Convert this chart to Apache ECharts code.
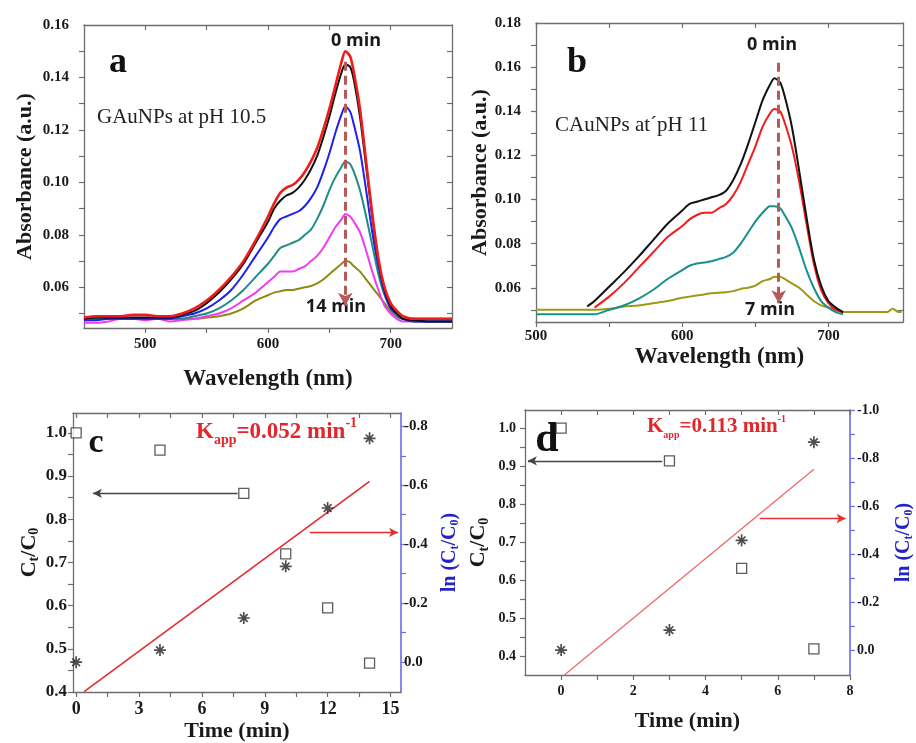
<!DOCTYPE html>
<html><head><meta charset="utf-8">
<script src="https://cdn.jsdelivr.net/npm/echarts@6/dist/echarts.min.js"></script>
<style>html,body{margin:0;padding:0;background:#fff}#c{width:916px;height:743px}</style>
</head><body><div id="c"></div>
<script>
// ---------- Panel a: GAuNPs at pH 10.5 ----------
const waveA = [450,460,470,480,490,500,510,520,530,540,550,560,570,580,590,600,605,610,615,620,625,630,635,640,645,650,655,660,663,667,670,675,680,685,690,695,700,705,710,720,730,740,750];
const absA_0 = [0.0485,0.049,0.049,0.049,0.0495,0.0495,0.049,0.049,0.050,0.052,0.055,0.059,0.064,0.070,0.078,0.087,0.092,0.096,0.098,0.099,0.101,0.104,0.108,0.113,0.120,0.128,0.137,0.146,0.150,0.148,0.142,0.128,0.108,0.088,0.071,0.060,0.054,0.051,0.049,0.048,0.048,0.048,0.048];
const absA_4 = [0.048,0.0485,0.0485,0.0485,0.0485,0.0485,0.0485,0.0485,0.0495,0.051,0.054,0.058,0.063,0.069,0.077,0.085,0.090,0.093,0.095,0.096,0.098,0.101,0.105,0.110,0.117,0.125,0.134,0.142,0.145,0.144,0.139,0.125,0.106,0.087,0.070,0.059,0.053,0.050,0.048,0.0475,0.047,0.047,0.047];
const absA_8 = [0.0475,0.0475,0.048,0.048,0.048,0.048,0.048,0.048,0.049,0.050,0.052,0.055,0.059,0.065,0.072,0.079,0.083,0.086,0.087,0.088,0.089,0.091,0.094,0.098,0.104,0.111,0.119,0.126,0.129,0.127,0.122,0.112,0.097,0.081,0.068,0.058,0.052,0.050,0.048,0.047,0.047,0.047,0.047];
const absA_10 = [0.048,0.048,0.048,0.048,0.048,0.048,0.048,0.048,0.048,0.049,0.050,0.052,0.055,0.059,0.064,0.069,0.072,0.075,0.076,0.077,0.078,0.080,0.082,0.086,0.091,0.097,0.102,0.106,0.108,0.107,0.104,0.097,0.087,0.076,0.065,0.057,0.052,0.049,0.048,0.047,0.047,0.047,0.047];
const absA_12 = [0.0465,0.0465,0.047,0.048,0.048,0.0475,0.048,0.047,0.0475,0.048,0.049,0.050,0.052,0.055,0.058,0.062,0.064,0.066,0.066,0.066,0.067,0.068,0.070,0.072,0.075,0.079,0.083,0.086,0.088,0.087,0.085,0.081,0.074,0.066,0.059,0.053,0.050,0.048,0.047,0.047,0.047,0.047,0.047];
const absA_14 = [0.048,0.048,0.048,0.048,0.048,0.048,0.048,0.048,0.048,0.048,0.0485,0.049,0.050,0.052,0.055,0.057,0.058,0.0585,0.059,0.059,0.0595,0.060,0.0605,0.0615,0.063,0.065,0.067,0.069,0.070,0.0695,0.068,0.066,0.063,0.060,0.057,0.054,0.051,0.049,0.048,0.048,0.048,0.048,0.048];
const arrowA = [[663,0.146],[663,0.053]];

// ---------- Panel b: CAuNPs at pH 11 ----------
const waveB = [500,510,520,530,535,540,550,560,570,580,590,600,605,610,615,620,625,630,635,640,645,650,655,660,663,667,670,675,680,685,690,695,700,705,710,720,730,740,744,748,750];
const absB_0 = [null,null,null,null,0.0515,0.054,0.0605,0.067,0.074,0.0815,0.089,0.095,0.098,0.099,0.100,0.101,0.102,0.104,0.109,0.116,0.125,0.135,0.145,0.152,0.155,0.153,0.147,0.133,0.113,0.092,0.073,0.061,0.054,0.051,0.049,null,null,null,null,null,null];
const absB_3 = [null,null,null,null,null,0.051,0.056,0.062,0.069,0.076,0.083,0.088,0.091,0.093,0.094,0.094,0.096,0.098,0.102,0.108,0.116,0.124,0.133,0.139,0.141,0.140,0.135,0.124,0.108,0.089,0.071,0.059,0.053,0.050,0.049,null,null,null,null,null,null];
const absB_5 = [0.048,0.048,0.048,0.048,0.048,0.048,0.050,0.052,0.055,0.059,0.064,0.068,0.070,0.071,0.0715,0.072,0.073,0.074,0.076,0.080,0.085,0.090,0.094,0.097,0.097,0.096,0.093,0.087,0.078,0.068,0.060,0.054,0.051,0.049,0.048,null,null,null,null,null,null];
const absB_7 = [0.050,0.050,0.050,0.050,0.050,0.050,0.0505,0.0515,0.052,0.053,0.054,0.0555,0.056,0.0565,0.057,0.0575,0.0578,0.058,0.0585,0.0595,0.060,0.061,0.063,0.064,0.065,0.065,0.064,0.062,0.060,0.057,0.054,0.052,0.051,0.050,0.049,0.049,0.049,0.049,0.0505,0.049,0.049];
const arrowB = [[666,0.162],[666,0.053]];

// ---------- Panel c: kinetics GAuNPs ----------
const timeC = [0,4,8,10,12,14];
const ratioC = [1.0,0.96,0.86,0.72,0.595,0.467];
const lnC = [0.0,-0.041,-0.15,-0.325,-0.523,-0.759];
const fitTimeC = [0.38,14];
const fitLnC = [0.10,-0.613];
const arrowLeftC = [[7.7,0.86],[0.8,0.86]];
const arrowRightC = [[11.15,-0.44],[15.36,-0.44]];

// ---------- Panel d: kinetics CAuNPs ----------
const timeD = [0,3,5,7];
const ratioD = [1.0,0.914,0.631,0.419];
const lnD = [0.0,-0.083,-0.457,-0.866];
const fitTimeD = [0.09,7];
const fitLnD = [0.104,-0.753];
const arrowLeftD = [[2.8,0.914],[-0.92,0.914]];
const arrowRightD = [[5.5,-0.548],[7.88,-0.548]];

// ---------- tick values ----------
const xLabA = [500,600,700], xTickA = [500,550,600,650,700];
const yLabA = [0.06,0.08,0.10,0.12,0.14,0.16], yTickA = [0.05,0.06,0.07,0.08,0.09,0.10,0.11,0.12,0.13,0.14,0.15];
const xLabB = [500,600,700], xTickB = [500,550,600,650,700];
const yLabB = [0.06,0.08,0.10,0.12,0.14,0.16,0.18], yTickB = [0.05,0.06,0.07,0.08,0.09,0.10,0.11,0.12,0.13,0.14,0.15,0.16,0.17];
const xLabC = [0,3,6,9,12,15], xTickC = [0,1.5,3,4.5,6,7.5,9,10.5,12,13.5,15];
const yLabC = [0.4,0.5,0.6,0.7,0.8,0.9,1.0], yTickC = [0.4,0.45,0.5,0.55,0.6,0.65,0.7,0.75,0.8,0.85,0.9,0.95,1.0];
const rLabC = [-0.8,-0.6,-0.4,-0.2,0.0], rTickC = [-0.8,-0.7,-0.6,-0.5,-0.4,-0.3,-0.2,-0.1,0.0];
const xLabD = [0,2,4,6,8], xTickD = [0,1,2,3,4,5,6,7,8];
const yLabD = [0.4,0.5,0.6,0.7,0.8,0.9,1.0], yTickD = [0.4,0.45,0.5,0.55,0.6,0.65,0.7,0.75,0.8,0.85,0.9,0.95,1.0];
const rLabD = [-1.0,-0.8,-0.6,-0.4,-0.2,0.0], rTickD = [-1.0,-0.9,-0.8,-0.7,-0.6,-0.5,-0.4,-0.3,-0.2,-0.1,0.0];

const serif = "'Liberation Serif','Times New Roman',serif";
const sans = "'Open Sans','Noto Sans',sans-serif";
const frame = '#6e6e6e';
const blueAx = '#6b6be6';
const kRed = '#e3262b';

const zip = (xs, ys) => xs.map((x, i) => [x, ys[i]]);
const fmt = d => v => { const n = Number(v); return Math.abs(n) < 1e-9 ? (0).toFixed(d) : n.toFixed(d); };

function mainAxis(type, grid, pos, min, max, labs, ticks, dec, size, margin, extra) {
  const a = {
    type: 'value', gridIndex: grid, position: pos, min: min, max: max,
    axisLine: {show: true, onZero: false, lineStyle: {color: frame, width: 1.3}},
    axisTick: {show: true, inside: false, length: 5, customValues: ticks, lineStyle: {color: frame, width: 1.2}},
    axisLabel: {show: true, customValues: labs, formatter: fmt(dec), fontFamily: serif, fontWeight: 'bold', fontSize: size, color: '#1a1a1a', margin: margin},
    splitLine: {show: false}
  };
  return Object.assign(a, extra || {});
}
function mirrorAxis(grid, pos, min, max, ticks) {
  return {
    type: 'value', gridIndex: grid, position: pos, min: min, max: max,
    axisLine: {show: true, onZero: false, lineStyle: {color: frame, width: 1.3}},
    axisTick: {show: true, inside: true, length: 5, customValues: ticks, lineStyle: {color: frame, width: 1.2}},
    axisLabel: {show: false}, splitLine: {show: false}
  };
}
const nameStyle = (size, color) => ({
  fontFamily: serif, fontWeight: 'bold', fontSize: size, color: color || '#1a1a1a',
  rich: {s: {fontFamily: serif, fontWeight: 'bold', fontSize: Math.round(size * 0.62), color: color || '#1a1a1a', verticalAlign: 'bottom', padding: [Math.round(size * 0.55), 0, 0, 0]}}
});

const starPath = 'path://M-5,-0.7L5,-0.7L5,0.7L-5,0.7Z M-0.7,-5L0.7,-5L0.7,5L-0.7,5Z M-3.7,-2.7L-2.7,-3.7L3.7,2.7L2.7,3.7Z M-3.7,2.7L2.7,-3.7L3.7,-2.7L-2.7,3.7Z';

function spec(name, xi, yi, wave, vals, color, w) {
  return {type: 'line', name: name, xAxisIndex: xi, yAxisIndex: yi, data: zip(wave, vals), showSymbol: false,
    smooth: 0.25, lineStyle: {color: color, width: w || 2}, itemStyle: {color: color}, connectNulls: false, silent: true};
}
const dashArrow = pts => ({silent: true, symbol: ['none', 'arrow'], symbolSize: [11, 13],
  lineStyle: {color: '#b65a55', width: 3, type: [9, 5]}, label: {show: false},
  data: [[{coord: pts[0]}, {coord: pts[1]}]]});
const thinArrow = (pts, color) => ({silent: true, symbol: ['none', 'arrow'], symbolSize: [7, 9],
  lineStyle: {color: color, width: 1.3, type: 'solid'}, label: {show: false},
  data: [[{coord: pts[0]}, {coord: pts[1]}]]});

const kRich = (size, subSize) => ({
  k: {fontFamily: serif, fontWeight: 'bold', fontSize: size, fill: kRed, lineHeight: size},
  s: {fontFamily: serif, fontWeight: 'bold', fontSize: subSize, fill: kRed, verticalAlign: 'bottom', padding: [Math.round(size * 0.75), 0, 0, 0]},
  p: {fontFamily: serif, fontWeight: 'bold', fontSize: subSize, fill: kRed, verticalAlign: 'top', padding: [0, 0, Math.round(size * 0.7), 0]}
});

const option = {
  animation: false,
  backgroundColor: '#fff',
  grid: [
    {left: 84, top: 25, width: 368, height: 303},
    {left: 536, top: 23, width: 367, height: 299},
    {left: 73, top: 413, width: 328, height: 280},
    {left: 525, top: 410, width: 325, height: 265}
  ],
  xAxis: [
    mainAxis('x', 0, 'bottom', 450, 750, xLabA, xTickA, 0, 15, 9, {name: 'Wavelength (nm)', nameLocation: 'middle', nameGap: 40, nameTextStyle: nameStyle(23)}),
    mirrorAxis(0, 'top', 450, 750, xTickA),
    mainAxis('x', 1, 'bottom', 500, 751, xLabB, xTickB, 0, 15, 7, {name: 'Wavelength (nm)', nameLocation: 'middle', nameGap: 24, nameTextStyle: nameStyle(23)}),
    mirrorAxis(1, 'top', 500, 751, xTickB),
    mainAxis('x', 2, 'bottom', -0.15, 15.5, xLabC, xTickC, 0, 18, 8, {name: 'Time (min)', nameLocation: 'middle', nameGap: 28, nameTextStyle: nameStyle(22)}),
    mirrorAxis(2, 'top', -0.15, 15.5, xTickC),
    mainAxis('x', 3, 'bottom', -1, 8, xLabD, xTickD, 0, 14, 9, {name: 'Time (min)', nameLocation: 'middle', nameGap: 35, nameTextStyle: nameStyle(22)}),
    mirrorAxis(3, 'top', -1, 8, xTickD)
  ],
  yAxis: [
    mainAxis('y', 0, 'left', 0.0445, 0.16, yLabA, yTickA, 2, 15, 15, {name: 'Absorbance (a.u.)', nameLocation: 'middle', nameGap: 48, nameTextStyle: nameStyle(22)}),
    mirrorAxis(0, 'right', 0.0445, 0.16, yTickA),
    mainAxis('y', 1, 'left', 0.0445, 0.18, yLabB, yTickB, 2, 15, 15, {name: 'Absorbance (a.u.)', nameLocation: 'middle', nameGap: 40, nameTextStyle: nameStyle(22)}),
    mirrorAxis(1, 'right', 0.0445, 0.18, yTickB),
    mainAxis('y', 2, 'left', 0.4, 1.046, yLabC, yTickC, 1, 17, 6, {name: 'C{s|t}/C{s|0}', nameLocation: 'middle', nameGap: 30, nameTextStyle: nameStyle(22)}),
    mainAxis('y', 2, 'right', -0.845, 0.101, rLabC, rTickC, 1, 15, 3, {inverse: true, name: 'ln (C{s|t}/C{s|0})', nameLocation: 'middle', nameGap: 37, nameTextStyle: nameStyle(20, '#2323c8'),
      axisLine: {show: true, onZero: false, lineStyle: {color: blueAx, width: 1.6}},
      axisTick: {show: true, length: 5, customValues: rTickC, lineStyle: {color: blueAx, width: 1.2}}}),
    mainAxis('y', 3, 'left', 0.35, 1.048, yLabD, yTickD, 1, 14, 9, {name: 'C{s|t}/C{s|0}', nameLocation: 'middle', nameGap: 34, nameTextStyle: nameStyle(22)}),
    mainAxis('y', 3, 'right', -1.0, 0.104, rLabD, rTickD, 1, 14, 7, {inverse: true, name: 'ln (C{s|t}/C{s|0})', nameLocation: 'middle', nameGap: 42, nameTextStyle: nameStyle(20, '#2323c8'),
      axisLine: {show: true, onZero: false, lineStyle: {color: blueAx, width: 1.6}},
      axisTick: {show: true, length: 5, customValues: rTickD, lineStyle: {color: blueAx, width: 1.2}}})
  ],
  series: [
    spec('14 min', 0, 0, waveA, absA_14, '#8c8a12'),
    spec('12 min', 0, 0, waveA, absA_12, '#f03cf0'),
    spec('10 min', 0, 0, waveA, absA_10, '#1f8c88'),
    spec('8 min', 0, 0, waveA, absA_8, '#1f1fee'),
    spec('4 min', 0, 0, waveA, absA_4, '#111111'),
    Object.assign(spec('0 min', 0, 0, waveA, absA_0, '#f01c1c', 2.6), {markLine: dashArrow(arrowA)}),

    spec('7 min', 2, 2, waveB, absB_7, '#9a9a16'),
    spec('5 min', 2, 2, waveB, absB_5, '#18908c'),
    spec('3 min', 2, 2, waveB, absB_3, '#f21c1c'),
    Object.assign(spec('0 min', 2, 2, waveB, absB_0, '#111111'), {markLine: dashArrow(arrowB)}),

    {type: 'scatter', name: 'Ct/C0', xAxisIndex: 4, yAxisIndex: 4, data: zip(timeC, ratioC), symbol: 'rect', symbolSize: 10,
      itemStyle: {color: '#fff', borderColor: '#333', borderWidth: 1.3}, silent: true, z: 4,
      markLine: thinArrow(arrowLeftC, '#444')},
    {type: 'line', name: 'fit', xAxisIndex: 4, yAxisIndex: 5, data: zip(fitTimeC, fitLnC), showSymbol: false,
      lineStyle: {color: '#e42c2c', width: 1.6}, silent: true, clip: true, markLine: thinArrow(arrowRightC, '#e42c2c')},
    {type: 'scatter', name: 'ln', xAxisIndex: 4, yAxisIndex: 5, data: zip(timeC, lnC), symbol: starPath, symbolSize: 12,
      itemStyle: {color: '#222'}, silent: true, z: 4},

    {type: 'scatter', name: 'Ct/C0', xAxisIndex: 6, yAxisIndex: 6, data: zip(timeD, ratioD), symbol: 'rect', symbolSize: 10,
      itemStyle: {color: '#fff', borderColor: '#333', borderWidth: 1.3}, silent: true, z: 4,
      markLine: thinArrow(arrowLeftD, '#444')},
    {type: 'line', name: 'fit', xAxisIndex: 6, yAxisIndex: 7, data: zip(fitTimeD, fitLnD), showSymbol: false,
      lineStyle: {color: '#ee6a6a', width: 1.3}, silent: true, clip: true, markLine: thinArrow(arrowRightD, '#e83030')},
    {type: 'scatter', name: 'ln', xAxisIndex: 6, yAxisIndex: 7, data: zip(timeD, lnD), symbol: starPath, symbolSize: 12,
      itemStyle: {color: '#222'}, silent: true, z: 4}
  ],
  graphic: [
    {type: 'text', x: 118, y: 63, style: {text: 'a', font: 'bold 36px ' + serif, fill: '#111', align: 'center', verticalAlign: 'middle'}},
    {type: 'text', x: 97, y: 117, style: {text: 'GAuNPs at pH 10.5', font: '21px ' + serif, fill: '#222', align: 'left', verticalAlign: 'middle'}},
    {type: 'text', x: 356, y: 41, style: {text: '0 min', font: 'bold 18px ' + sans, fill: '#1a1a1a', align: 'center', verticalAlign: 'middle'}},
    {type: 'text', x: 336, y: 307, style: {text: '14 min', font: 'bold 18px ' + sans, fill: '#1a1a1a', align: 'center', verticalAlign: 'middle'}},
    {type: 'text', x: 577, y: 63, style: {text: 'b', font: 'bold 36px ' + serif, fill: '#111', align: 'center', verticalAlign: 'middle'}},
    {type: 'text', x: 555, y: 125, style: {text: 'CAuNPs at\u00b4pH 11', font: '21px ' + serif, fill: '#222', align: 'left', verticalAlign: 'middle'}},
    {type: 'text', x: 772, y: 45, style: {text: '0 min', font: 'bold 18px ' + sans, fill: '#1a1a1a', align: 'center', verticalAlign: 'middle'}},
    {type: 'text', x: 770, y: 310, style: {text: '7 min', font: 'bold 18px ' + sans, fill: '#1a1a1a', align: 'center', verticalAlign: 'middle'}},
    {type: 'text', x: 96, y: 443, style: {text: 'c', font: 'bold 34px ' + serif, fill: '#111', align: 'center', verticalAlign: 'middle'}},
    {type: 'text', x: 196, y: 432, style: {text: '{k|K}{s|app}{k|=0.052 min}{p|-1}', fill: kRed, rich: kRich(23, 14), align: 'left', verticalAlign: 'middle'}},
    {type: 'text', x: 547, y: 440, style: {text: 'd', font: 'bold 42px ' + serif, fill: '#111', align: 'center', verticalAlign: 'middle'}},
    {type: 'text', x: 647, y: 427, style: {text: '{k|K}{s|app}{k|=0.113 min}{p|-1}', fill: kRed, rich: kRich(21, 10), align: 'left', verticalAlign: 'middle'}}
  ]
};

const chart = echarts.init(document.getElementById('c'), null, {renderer: 'canvas'});
chart.setOption(option);
</script>
</body></html>
